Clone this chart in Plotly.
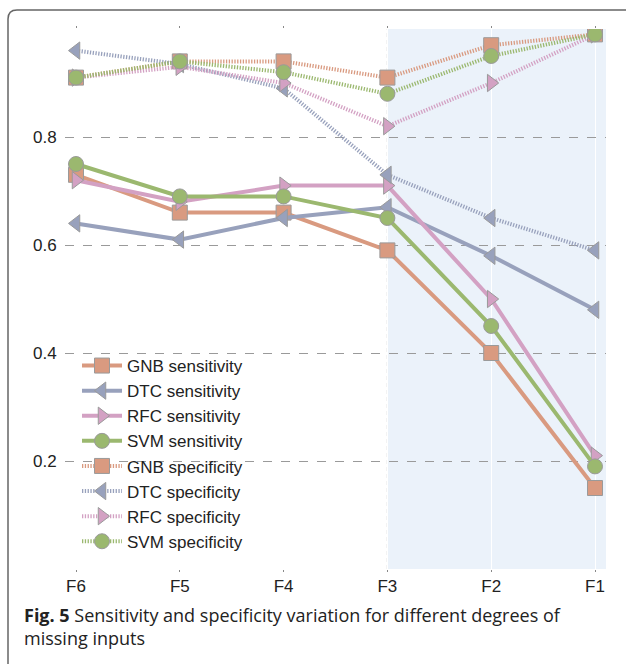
import plotly.graph_objects as go

# Feature subsets, from all six inputs down to one
categories = ["F6", "F5", "F4", "F3", "F2", "F1"]

gnb_sensitivity = [0.73, 0.66, 0.66, 0.59, 0.40, 0.15]
dtc_sensitivity = [0.64, 0.61, 0.65, 0.67, 0.58, 0.48]
rfc_sensitivity = [0.72, 0.68, 0.71, 0.71, 0.50, 0.21]
svm_sensitivity = [0.75, 0.69, 0.69, 0.65, 0.45, 0.19]

gnb_specificity = [0.91, 0.94, 0.94, 0.91, 0.97, 0.99]
dtc_specificity = [0.96, 0.935, 0.89, 0.73, 0.65, 0.59]
rfc_specificity = [0.91, 0.93, 0.90, 0.82, 0.90, 0.99]
svm_specificity = [0.91, 0.94, 0.92, 0.88, 0.95, 0.99]

y_ticks = [0.2, 0.4, 0.6, 0.8]

W, H = 626, 664
L, R, T, B = 65, 20, 29, 95
PW, PH = W - L - R, H - T - B


def px(x):
    return (x - L) / PW


def py(y):
    return (H - B - y) / PH


models = [
    ("GNB", "#d99a80", "square"),
    ("DTC", "#98a1bc", "triangle-left"),
    ("RFC", "#d3a1c3", "triangle-right"),
    ("SVM", "#9bb86f", "circle"),
]
sens = [gnb_sensitivity, dtc_sensitivity, rfc_sensitivity, svm_sensitivity]
spec = [gnb_specificity, dtc_specificity, rfc_specificity, svm_specificity]

fig = go.Figure()

for (name, color, symbol), vals in zip(models, sens):
    fig.add_trace(go.Scatter(
        x=categories, y=vals, name=f"{name} sensitivity",
        mode="lines+markers",
        line=dict(color=color, width=4),
        marker=dict(symbol=symbol, size=15, color=color,
                    line=dict(color="#9a9a9a", width=1)),
    ))

for (name, color, symbol), vals in zip(models, spec):
    fig.add_trace(go.Scatter(
        x=categories, y=vals, name=f"{name} specificity",
        mode="lines+markers",
        line=dict(color=color, width=4, dash="1.3px,1.5px"),
        marker=dict(symbol=symbol, size=15, color=color,
                    line=dict(color="#9a9a9a", width=1)),
    ))

xr = [-0.106, 5.106]

shapes = [
    # shaded region for the reduced feature sets
    dict(type="rect", xref="x", yref="paper", x0=3, x1=xr[1], y0=0, y1=1,
         fillcolor="#ebf2fa", line=dict(width=0), layer="below"),
    dict(type="line", xref="x", yref="paper", x0=3, x1=3, y0=0, y1=1,
         line=dict(color="#8a8a8a", width=1, dash="4px,3px"), layer="below"),
]

# rounded frame around figure
fx0, fy0, r = 8, 10, 9
frame = (f"M {px(fx0)},{py(700)} L {px(fx0)},{py(fy0 + r)} "
         f"Q {px(fx0)},{py(fy0)} {px(fx0 + r)},{py(fy0)} L {px(700)},{py(fy0)}")
shapes.append(dict(type="path", xref="paper", yref="paper", path=frame,
                   line=dict(color="#666666", width=1.5)))

fig.update_layout(
    width=W, height=H,
    margin=dict(l=L, r=R, t=T, b=B),
    paper_bgcolor="white", plot_bgcolor="white",
    font=dict(family="Liberation Sans, Arial", size=17, color="#222222"),
    shapes=shapes,
    showlegend=True,
    legend=dict(x=px(77), y=py(348), xanchor="left", yanchor="top",
                bgcolor="rgba(0,0,0,0)", font=dict(size=17),
                tracegroupgap=0, itemwidth=40),
    xaxis=dict(range=xr, showgrid=True, gridcolor="white", gridwidth=1,
               zeroline=False, showline=False, ticks="outside", ticklen=2,
               tickcolor="#888888", mirror="ticks", fixedrange=True),
    yaxis=dict(range=[0, 1.0], tickvals=y_ticks, ticktext=[f"{v:.1f}" for v in y_ticks],
               showgrid=True, gridcolor="#9a9a9a", griddash="dash", gridwidth=1,
               zeroline=False, showline=False, ticks="outside", ticklen=4,
               tickcolor="rgba(0,0,0,0)"),
    annotations=[dict(
        xref="paper", yref="paper", x=px(22), y=py(601), xanchor="left", yanchor="top",
        align="left", showarrow=False,
        text="<b>Fig. 5</b> Sensitivity and specificity variation for different degrees of<br>missing inputs",
        font=dict(family="Open Sans", size=18, color="#222222"),
    )],
)

fig.write_html("out.html")
